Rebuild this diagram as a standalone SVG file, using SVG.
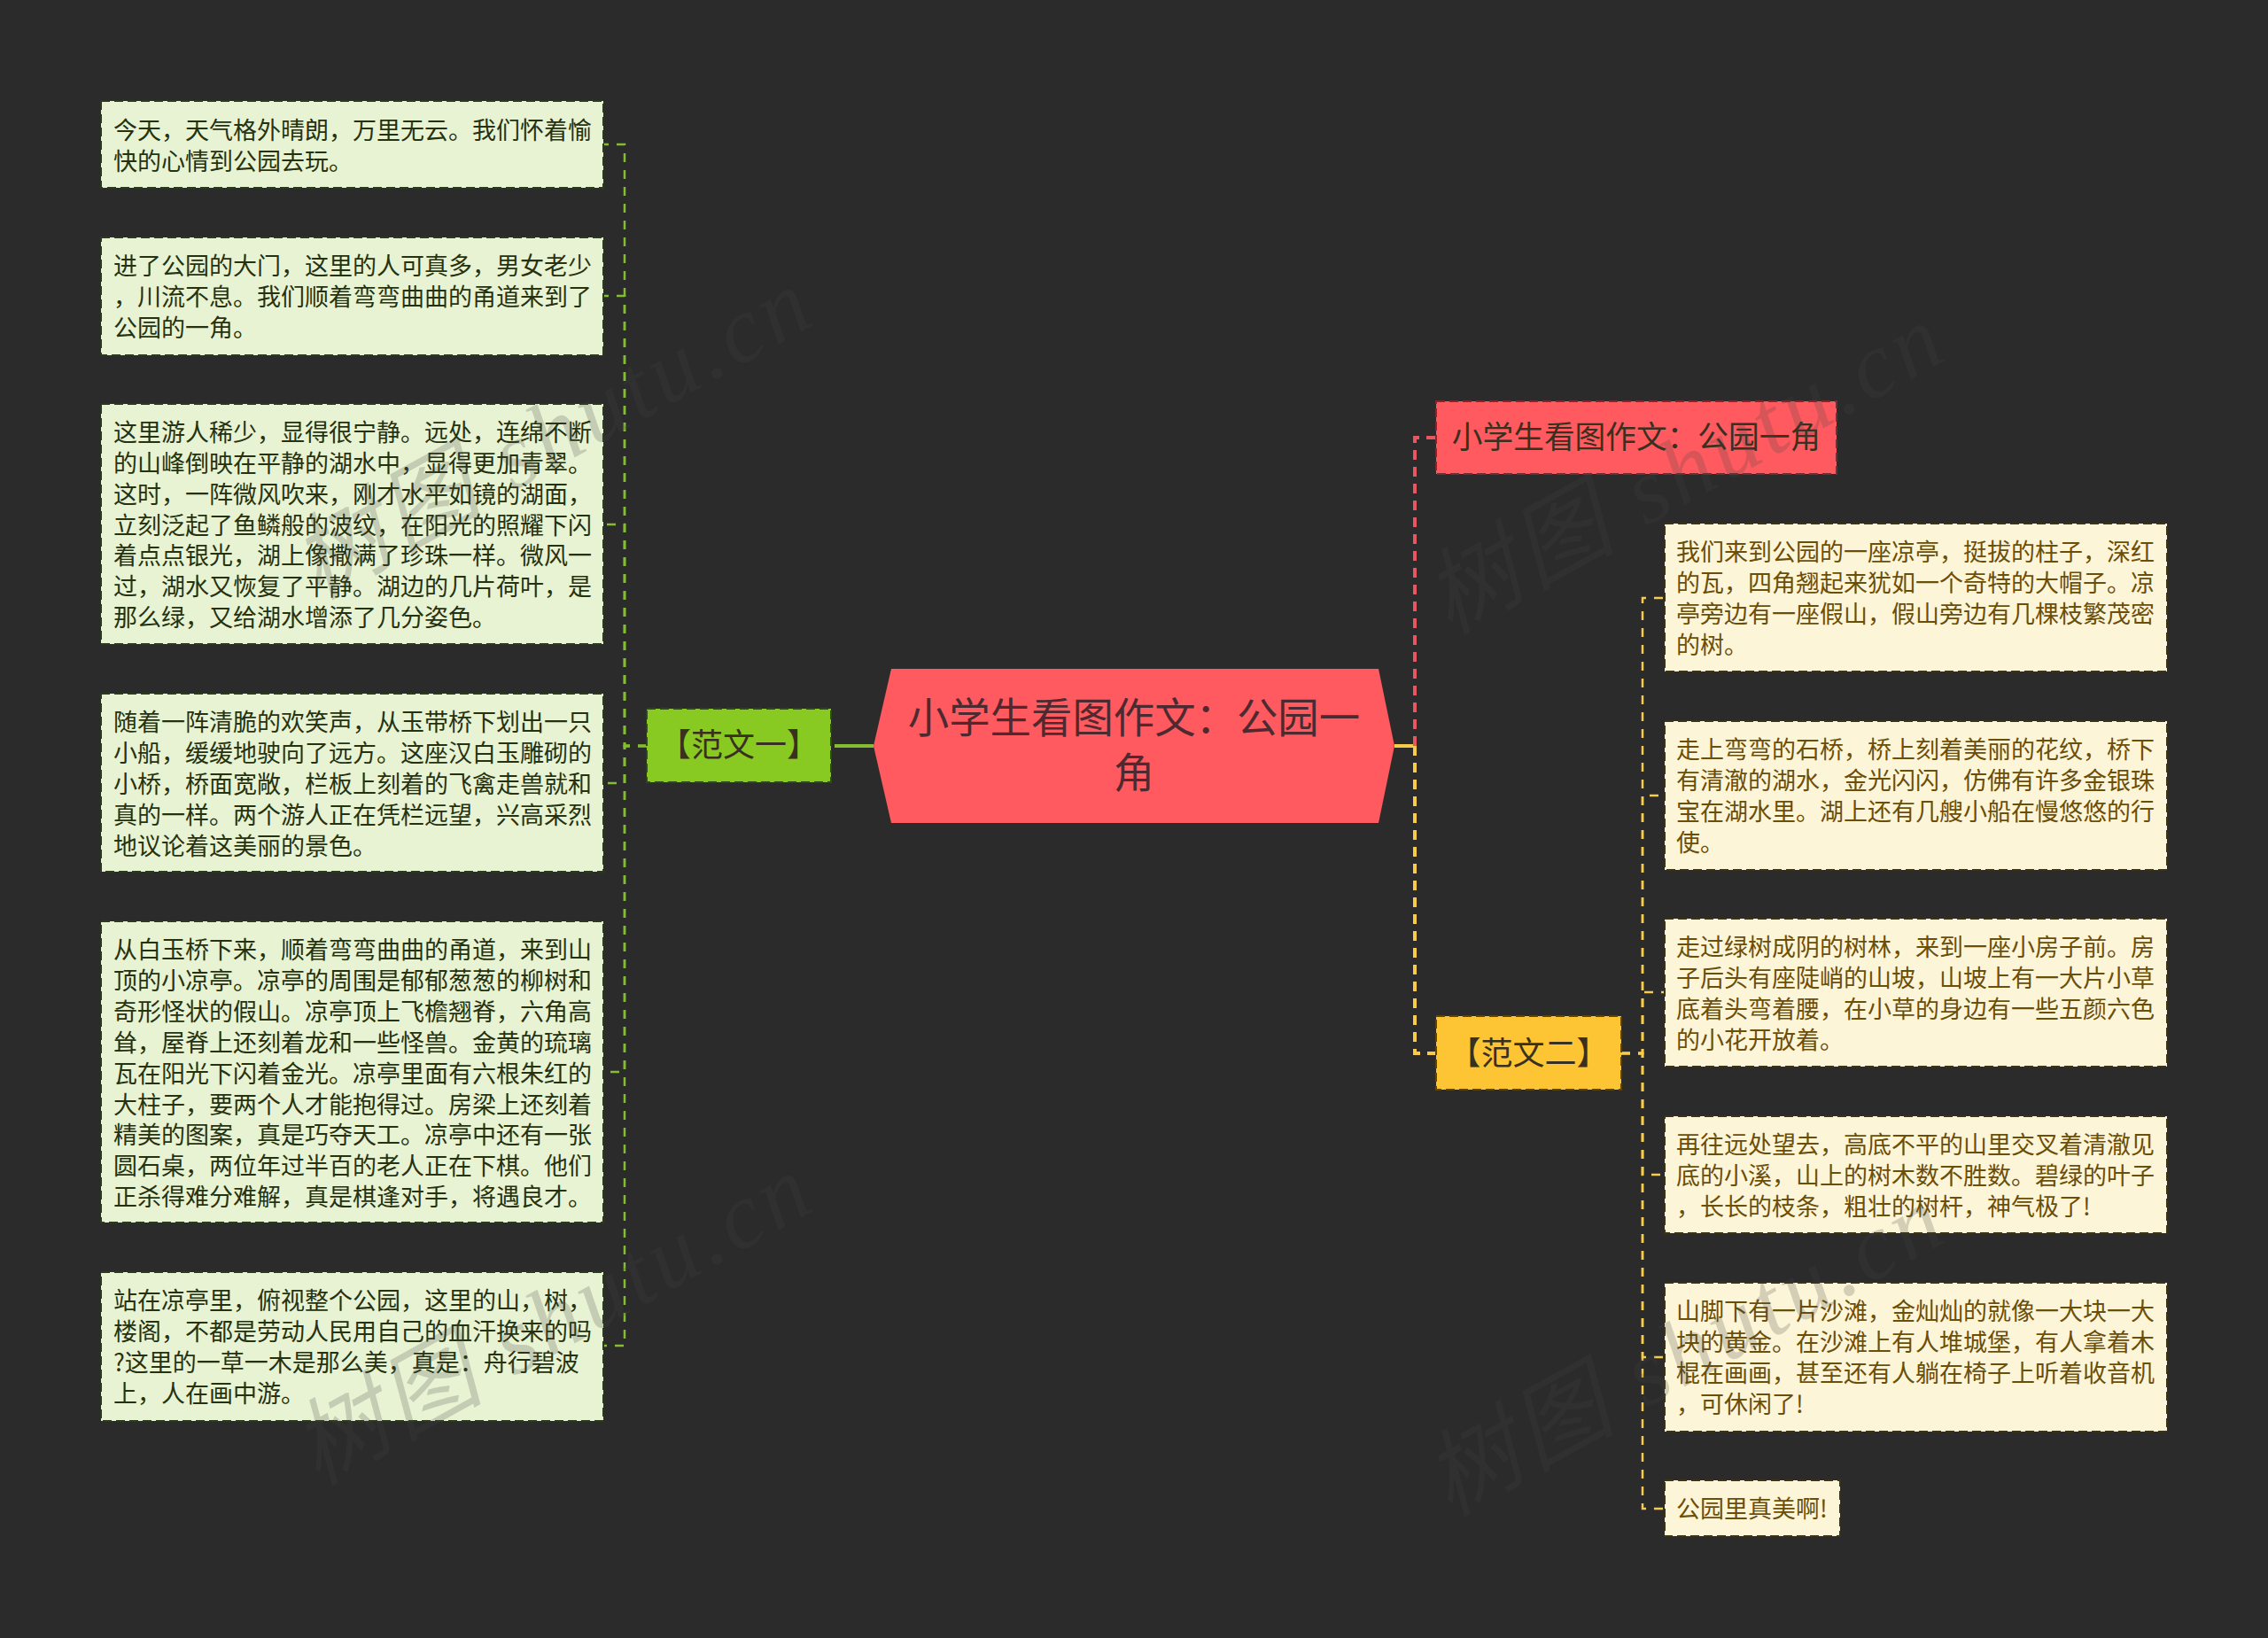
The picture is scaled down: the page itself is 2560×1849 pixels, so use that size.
<svg xmlns="http://www.w3.org/2000/svg" width="2560" height="1849" viewBox="0 0 2560 1849">
<style>
text{font-family:"Noto Sans CJK SC","Noto Sans",sans-serif}
.c{fill:none;stroke-linejoin:miter}
.g{stroke:#85bd30}
.r{stroke:#e8565f}
.y{stroke:#f8cb48}
.thin{stroke-width:2.5;stroke-dasharray:10 9}
.thick{stroke-width:4;stroke-dasharray:11 8}
.box{stroke-width:2;stroke-dasharray:10 5}
.lg rect{fill:#e8f3d3;stroke:#2c3a1c}
.lc rect{fill:#fdf5d8;stroke:#3a3318}
.lg text{font-size:27px;fill:#26320f;transform:translateY(-.5px)}
.lc text{font-size:27px;fill:#6b4e08;transform:translateY(-.5px)}
.m text{font-size:36px;text-anchor:middle;fill:#3a3020}
.wm{font-family:"Liberation Serif","Noto Sans CJK SC",serif;font-style:italic;font-size:106px;letter-spacing:5px;fill:#464646;fill-opacity:.22;text-anchor:middle}
</style>
<rect width="2560" height="1849" fill="#2b2b2b"/>
<g id="connectors">
<path class="c g" stroke-width="4" d="M986 842H938" stroke-dasharray="44 8 4"/>
<path class="c" stroke="#f8cb48" stroke-width="4" d="M1574 842H1597"/>
<path class="c r thick" d="M1597 842V494H1621"/>
<path class="c y thick" d="M1597 842V1189H1621"/>
<g class="c g thin">
<path d="M730 842H705V163H681"/>
<path d="M730 842H705V334H681"/>
<path d="M730 842H705V592H681"/>
<path d="M730 842H705V884H681"/>
<path d="M730 842H705V1210H681"/>
<path d="M730 842H705V1519H681"/>
</g>
<g class="c y thin">
<path d="M1830 1189H1854V675H1879"/>
<path d="M1830 1189H1854V898H1879"/>
<path d="M1830 1189H1854V1120H1879"/>
<path d="M1830 1189H1854V1326H1879"/>
<path d="M1830 1189H1854V1532H1879"/>
<path d="M1830 1189H1854V1703H1879"/>
</g>
</g>
<g id="root">
<polygon points="986,842 1006,755 1556,755 1574,842 1556,929 1006,929" fill="#fe5a5f"/>
<text x="1280" y="827" font-size="46.4" text-anchor="middle" fill="#4e2a30">小学生看图作文：公园一</text>
<text x="1280" y="889" font-size="46.4" text-anchor="middle" fill="#4e2a30">角</text>
</g>
<g id="branch-title" class="m">
<rect class="box" x="1621" y="453" width="452" height="82" fill="#fe5a5f" stroke="#7a2a30"/>
<text x="1847" y="506" fill="#4e2a30" style="font-size:34.7px">小学生看图作文：公园一角</text>
</g>
<g id="branch-1" class="m">
<rect class="box" x="730" y="800" width="208" height="83" fill="#88c922" stroke="#2f4a10"/>
<text x="834" y="854" fill="#26320f">【范文一】</text>
</g>
<g id="branch-2" class="m">
<rect class="box" x="1621" y="1147" width="209" height="83" fill="#fdc533" stroke="#5a4510"/>
<text x="1725.5" y="1202" fill="#3a3018">【范文二】</text>
</g>
<g id="l1" class="lg">
<rect class="box" x="114" y="114" width="567" height="98"/>
<text x="128" y="157">今天，天气格外晴朗，万里无云。我们怀着愉</text>
<text x="128" y="192">快的心情到公园去玩。</text>
</g>
<g id="l2" class="lg">
<rect class="box" x="114" y="268" width="567" height="133"/>
<text x="128" y="310">进了公园的大门，这里的人可真多，男女老少</text>
<text x="128" y="345">，川流不息。我们顺着弯弯曲曲的甬道来到了</text>
<text x="128" y="380">公园的一角。</text>
</g>
<g id="l3" class="lg">
<rect class="box" x="114" y="456" width="567" height="271"/>
<text x="128" y="498">这里游人稀少，显得很宁静。远处，连绵不断</text>
<text x="128" y="533">的山峰倒映在平静的湖水中，显得更加青翠。</text>
<text x="128" y="568">这时，一阵微风吹来，刚才水平如镜的湖面，</text>
<text x="128" y="603">立刻泛起了鱼鳞般的波纹，在阳光的照耀下闪</text>
<text x="128" y="637">着点点银光，湖上像撒满了珍珠一样。微风一</text>
<text x="128" y="672">过，湖水又恢复了平静。湖边的几片荷叶，是</text>
<text x="128" y="707">那么绿，又给湖水增添了几分姿色。</text>
</g>
<g id="l4" class="lg">
<rect class="box" x="114" y="783" width="567" height="201"/>
<text x="128" y="825">随着一阵清脆的欢笑声，从玉带桥下划出一只</text>
<text x="128" y="860">小船，缓缓地驶向了远方。这座汉白玉雕砌的</text>
<text x="128" y="895">小桥，桥面宽敞，栏板上刻着的飞禽走兽就和</text>
<text x="128" y="930">真的一样。两个游人正在凭栏远望，兴高采烈</text>
<text x="128" y="965">地议论着这美丽的景色。</text>
</g>
<g id="l5" class="lg">
<rect class="box" x="114" y="1040" width="567" height="340"/>
<text x="128" y="1082">从白玉桥下来，顺着弯弯曲曲的甬道，来到山</text>
<text x="128" y="1117">顶的小凉亭。凉亭的周围是郁郁葱葱的柳树和</text>
<text x="128" y="1152">奇形怪状的假山。凉亭顶上飞檐翘脊，六角高</text>
<text x="128" y="1187">耸，屋脊上还刻着龙和一些怪兽。金黄的琉璃</text>
<text x="128" y="1222">瓦在阳光下闪着金光。凉亭里面有六根朱红的</text>
<text x="128" y="1257">大柱子，要两个人才能抱得过。房梁上还刻着</text>
<text x="128" y="1291">精美的图案，真是巧夺天工。凉亭中还有一张</text>
<text x="128" y="1326">圆石桌，两位年过半百的老人正在下棋。他们</text>
<text x="128" y="1361">正杀得难分难解，真是棋逢对手，将遇良才。</text>
</g>
<g id="l6" class="lg">
<rect class="box" x="114" y="1436" width="567" height="168"/>
<text x="128" y="1478">站在凉亭里，俯视整个公园，这里的山，树，</text>
<text x="128" y="1513">楼阁，不都是劳动人民用自己的血汗换来的吗</text>
<text x="128" y="1548">?这里的一草一木是那么美，真是：舟行碧波</text>
<text x="128" y="1583">上，人在画中游。</text>
</g>
<g id="r1" class="lc">
<rect class="box" x="1879" y="591" width="567" height="167"/>
<text x="1892" y="633">我们来到公园的一座凉亭，挺拔的柱子，深红</text>
<text x="1892" y="668">的瓦，四角翘起来犹如一个奇特的大帽子。凉</text>
<text x="1892" y="703">亭旁边有一座假山，假山旁边有几棵枝繁茂密</text>
<text x="1892" y="738">的树。</text>
</g>
<g id="r2" class="lc">
<rect class="box" x="1879" y="814" width="567" height="168"/>
<text x="1892" y="856">走上弯弯的石桥，桥上刻着美丽的花纹，桥下</text>
<text x="1892" y="891">有清澈的湖水，金光闪闪，仿佛有许多金银珠</text>
<text x="1892" y="926">宝在湖水里。湖上还有几艘小船在慢悠悠的行</text>
<text x="1892" y="961">使。</text>
</g>
<g id="r3" class="lc">
<rect class="box" x="1879" y="1037" width="567" height="167"/>
<text x="1892" y="1079">走过绿树成阴的树林，来到一座小房子前。房</text>
<text x="1892" y="1114">子后头有座陡峭的山坡，山坡上有一大片小草</text>
<text x="1892" y="1149">底着头弯着腰，在小草的身边有一些五颜六色</text>
<text x="1892" y="1184">的小花开放着。</text>
</g>
<g id="r4" class="lc">
<rect class="box" x="1879" y="1260" width="567" height="132"/>
<text x="1892" y="1302">再往远处望去，高底不平的山里交叉着清澈见</text>
<text x="1892" y="1337">底的小溪，山上的树木数不胜数。碧绿的叶子</text>
<text x="1892" y="1372">，长长的枝条，粗壮的树杆，神气极了!</text>
</g>
<g id="r5" class="lc">
<rect class="box" x="1879" y="1448" width="567" height="168"/>
<text x="1892" y="1490">山脚下有一片沙滩，金灿灿的就像一大块一大</text>
<text x="1892" y="1525">块的黄金。在沙滩上有人堆城堡，有人拿着木</text>
<text x="1892" y="1560">棍在画画，甚至还有人躺在椅子上听着收音机</text>
<text x="1892" y="1595">，可休闲了!</text>
</g>
<g id="r6" class="lc">
<rect class="box" x="1879" y="1671" width="198" height="63"/>
<text x="1892" y="1713">公园里真美啊!</text>
</g>
<g id="watermarks">
<text class="wm" transform="translate(642 520) rotate(-29)">树图 shutu.cn</text>
<text class="wm" transform="translate(1920 560) rotate(-29)">树图 shutu.cn</text>
<text class="wm" transform="translate(642 1520) rotate(-29)">树图 shutu.cn</text>
<text class="wm" transform="translate(1920 1555) rotate(-29)">树图 shutu.cn</text>
</g>
</svg>
